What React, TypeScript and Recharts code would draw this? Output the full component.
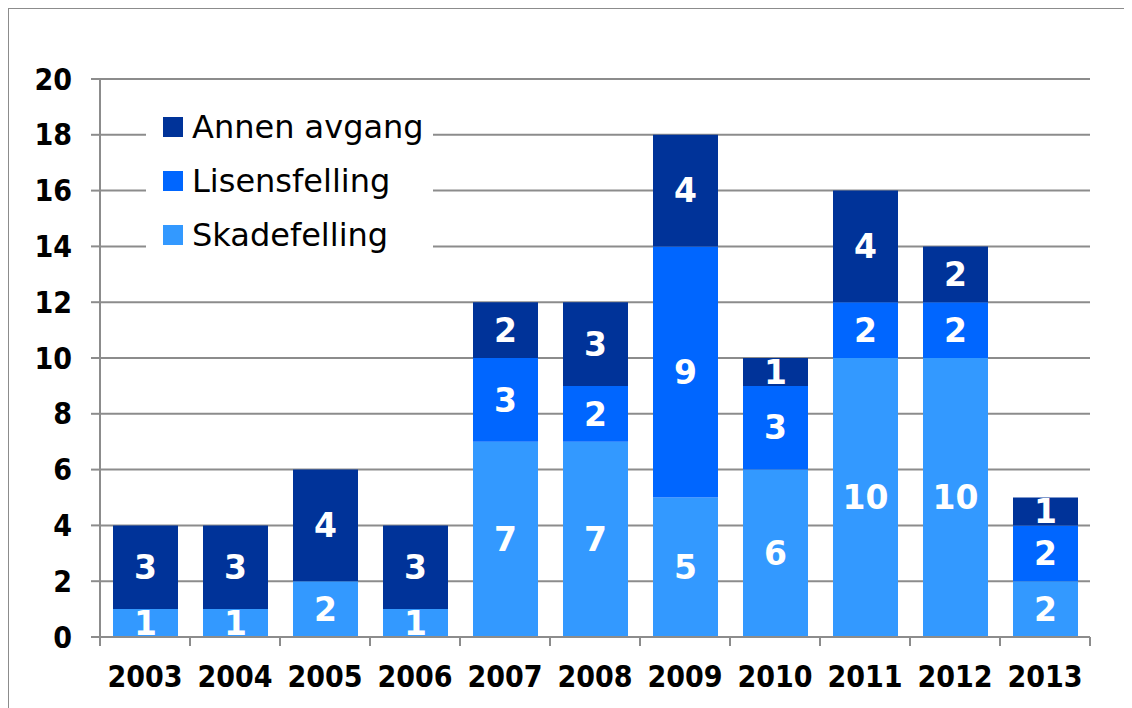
import React from 'react';
import { BarChart, Bar, XAxis, YAxis, CartesianGrid, Legend, LabelList } from 'recharts';

const years = ['2003', '2004', '2005', '2006', '2007', '2008', '2009', '2010', '2011', '2012', '2013'];
const skadefelling = [1, 1, 2, 1, 7, 7, 5, 6, 10, 10, 2];
const lisensfelling = [0, 0, 0, 0, 3, 2, 9, 3, 2, 2, 2];
const annenAvgang = [3, 3, 4, 3, 2, 3, 4, 1, 4, 2, 1];
const yTicks = [0, 2, 4, 6, 8, 10, 12, 14, 16, 18, 20];

const series = [
  { key: 'annen', name: 'Annen avgang', color: '#003399' },
  { key: 'lisens', name: 'Lisensfelling', color: '#0066ff' },
  { key: 'skade', name: 'Skadefelling', color: '#3399ff' },
];

const data = years.map((year, i) => ({
  year,
  skade: skadefelling[i],
  lisens: lisensfelling[i],
  annen: annenAvgang[i],
}));

const W = 1123;
const H = 699;
const margin = { top: 70, right: 42, bottom: 11, left: 0 };
const Y_AXIS_W = 91;
const PLOT_W = W - margin.left - margin.right - Y_AXIS_W;

const GRID = '#8c8c8c';
const TICK_FONT = "'DejaVu Sans Condensed', 'DejaVu Sans', sans-serif";
const LABEL_FONT = "'DejaVu Sans', sans-serif";

function YearTick(props: any) {
  const { x, y, payload, index } = props;
  const half = PLOT_W / years.length / 2;
  return (
    <g>
      <line x1={x - half} x2={x - half} y1={y} y2={y + 9} stroke={GRID} strokeWidth={2} />
      {index === years.length - 1 && (
        <line x1={x + half} x2={x + half} y1={y} y2={y + 9} stroke={GRID} strokeWidth={2} />
      )}
      <text
        x={x}
        y={y + 50}
        textAnchor="middle"
        fill="#000"
        fontSize={30}
        fontWeight="bold"
        fontFamily={TICK_FONT}
        style={{ fontStretch: 'condensed' }}
      >
        {payload.value}
      </text>
    </g>
  );
}

function LegendBox() {
  return (
    <div style={{ background: '#fff', paddingLeft: 17, width: 270 }}>
      {series.map((s) => (
        <div key={s.key} style={{ display: 'flex', alignItems: 'center', height: 54 }}>
          <span style={{ width: 20, height: 20, background: s.color, display: 'inline-block' }} />
          <span
            style={{
              marginLeft: 9,
              fontFamily: LABEL_FONT,
              fontSize: 32,
              color: '#000',
              lineHeight: '54px',
            }}
          >
            {s.name}
          </span>
        </div>
      ))}
    </div>
  );
}

const hideZero = (v: any) => (v ? v : '');

export default function App() {
  return (
    <div
      style={{
        position: 'relative',
        width: W,
        height: H,
        borderLeft: `1px solid ${GRID}`,
        borderTop: `1px solid ${GRID}`,
        background: '#fff',
      }}
    >
      <div style={{ position: 'absolute', left: 0, top: 0 }}>
        <BarChart width={W} height={H} data={data} margin={margin} barSize={65}>
          <CartesianGrid vertical={false} stroke={GRID} strokeWidth={2} />
          <XAxis
            dataKey="year"
            height={60}
            axisLine={{ stroke: GRID, strokeWidth: 2 }}
            tickLine={false}
            tickSize={0}
            tickMargin={0}
            interval={0}
            tick={<YearTick />}
          />
          <YAxis
            width={Y_AXIS_W}
            domain={[0, 20]}
            ticks={yTicks}
            interval={0}
            axisLine={{ stroke: GRID, strokeWidth: 2 }}
            tickLine={{ stroke: GRID, strokeWidth: 2 }}
            tickSize={9}
            tickMargin={19}
            tick={{
              fill: '#000',
              fontSize: 30,
              fontWeight: 'bold',
              fontFamily: TICK_FONT,
              style: { fontStretch: 'condensed' },
            }}
          />
          <Legend
            layout="vertical"
            align="center"
            verticalAlign="middle"
            content={<LegendBox />}
            wrapperStyle={{ left: 137, top: 91, width: 287 }}
          />
          <Bar dataKey="skade" name="Skadefelling" stackId="a" fill="#3399ff" isAnimationActive={false}>
            <LabelList
              dataKey="skade"
              position="center"
              formatter={hideZero}
              fill="#fff"
              fontSize={33}
              fontWeight="bold"
              fontFamily={LABEL_FONT}
            />
          </Bar>
          <Bar dataKey="lisens" name="Lisensfelling" stackId="a" fill="#0066ff" isAnimationActive={false}>
            <LabelList
              dataKey="lisens"
              position="center"
              formatter={hideZero}
              fill="#fff"
              fontSize={33}
              fontWeight="bold"
              fontFamily={LABEL_FONT}
            />
          </Bar>
          <Bar dataKey="annen" name="Annen avgang" stackId="a" fill="#003399" isAnimationActive={false}>
            <LabelList
              dataKey="annen"
              position="center"
              formatter={hideZero}
              fill="#fff"
              fontSize={33}
              fontWeight="bold"
              fontFamily={LABEL_FONT}
            />
          </Bar>
        </BarChart>
      </div>
    </div>
  );
}
